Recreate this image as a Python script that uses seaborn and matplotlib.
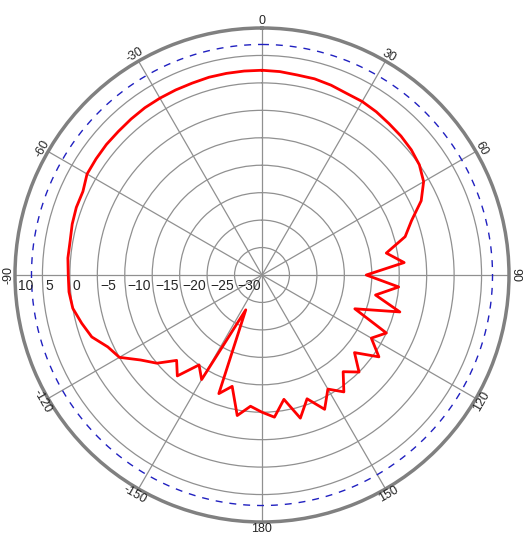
import numpy as np
import matplotlib
matplotlib.use("Agg")
import matplotlib.pyplot as plt
import seaborn as sns
import pandas as pd

angles_deg = list(range(0, 360, 5)) + [360]
gain_db = [2.3, 2.2, 2.0, 2.0, 1.8, 1.5, 1.5, 1.3, 1.0, 0.8, 0.5, 0.0,
           -1.0, -3, -6, -8, -12, -9, -16, -10, -14, -9, -17, -10,
           -12, -9, -13, -10, -12, -9, -11, -8, -11, -8, -12, -9,
           -10, -11, -9, -14, -12, -28, -13, -15, -11, -13, -10, -8,
           -5, -4, -2, -1, 0, 0.3, 0.3, 0.5, 0.5, 0.8, 1.0, 1.0,
           1.8, 1.9, 2.0, 2.0, 2.1, 2.2, 2.2, 2.2, 2.2, 2.3, 2.3, 2.3, 2.3]
ring_levels = [-30, -25, -20, -15, -10, -5, 0, 5, 10]
theta_ticks = [0, 30, 60, 90, 120, 150, 180, 210, 240, 270, 300, 330]
theta_labels = ["0", "30", "60", "90", "120", "150", "180", "-150", "-120", "-90", "-60", "-30"]

sns.set_style("white")
plt.rcParams["font.family"] = ["Liberation Sans", "DejaVu Sans"]
fig = plt.figure(figsize=(5.29, 5.41), dpi=100)
ax = fig.add_axes([15/529, 19/541, 494/529, 494/541], projection="polar")
ax.set_theta_zero_location("N")
ax.set_theta_direction(-1)
ax.set_ylim(-35, 10)

df = pd.DataFrame({"theta": np.deg2rad(angles_deg), "r": gain_db})
sns.lineplot(data=df, x="theta", y="r", ax=ax, color="red", lw=2, sort=False)

th = np.linspace(0, 2*np.pi, 400)
ax.plot(th, np.full_like(th, 7), color="#2020c0", ls=(0, (5, 5)), lw=1)

ax.set_rgrids(ring_levels[:-1], labels=[])
ax.set_thetagrids(theta_ticks, labels=[])
ax.grid(True, color="#909090", lw=0.9)
ax.spines["polar"].set_color("#808080")
ax.spines["polar"].set_linewidth(2.5)
ax.set_xlabel(""); ax.set_ylabel("")

for v in ring_levels:
    ax.annotate(str(v).replace("-", "\u2212"), xy=(np.deg2rad(270), v), xytext=(2, -3),
                textcoords="offset points", ha="left", va="top", fontsize=10)

for a, lab in zip(theta_ticks, theta_labels):
    rot = -a
    if 90 < a < 270:
        rot += 180
    ax.text(np.deg2rad(a), 11.2, lab, ha="center", va="center", rotation=rot,
            rotation_mode="anchor", fontsize=9)

fig.savefig("out.png", dpi=100)
